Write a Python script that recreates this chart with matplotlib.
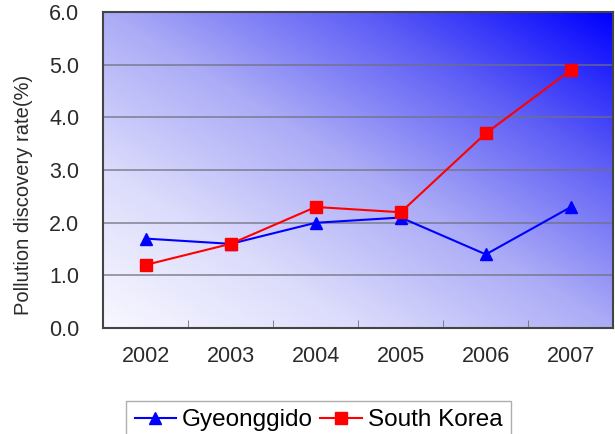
import numpy as np
import matplotlib.pyplot as plt
from matplotlib.colors import LinearSegmentedColormap

years = ['2002', '2003', '2004', '2005', '2006', '2007']
gyeonggido = [1.7, 1.6, 2.0, 2.1, 1.4, 2.3]
south_korea = [1.2, 1.6, 2.3, 2.2, 3.7, 4.9]

plt.rcParams['font.family'] = ['Liberation Sans', 'DejaVu Sans']

fig = plt.figure(figsize=(6.15, 4.34), dpi=100)
ax = fig.add_axes([0.1675, 0.244, 0.830, 0.728])

x = np.arange(len(years))

# diagonal gradient background, white at lower left, blue at upper right
gx, gy = np.meshgrid(np.linspace(0, 1, 300), np.linspace(0, 1, 300))
t = (gx + gy) / 2
cmap = LinearSegmentedColormap.from_list(
    'bg', [(0, '#f8f8ff'), (0.25, '#dcdcfc'), (0.5, '#acacf7'), (0.75, '#5e5ef6'), (1, '#0000ff')])
ax.imshow(t, cmap=cmap, origin='lower', extent=[-0.5, 5.5, 0, 6], aspect='auto',
          interpolation='bilinear', zorder=0)

for v in [1, 2, 3, 4, 5]:
    ax.axhline(v, color='#70707e', lw=1.1, alpha=0.85, zorder=1)

ax.plot(x, gyeonggido, color='#0000ff', lw=1.5, marker='^', ms=8, label='Gyeonggido', zorder=3)
ax.plot(x, south_korea, color='#ff0000', lw=1.5, marker='s', ms=8, label='South Korea', zorder=3)

ax.set_xlim(-0.5, 5.5)
ax.set_ylim(0, 6)
ax.set_xticks(x)
ax.set_xticklabels(years)
ax.set_xticks(np.arange(-0.5, 6, 1), minor=True)
ax.tick_params(axis='x', which='major', length=0, pad=13, labelsize=15.5, colors='#2a2a2a')
ax.tick_params(axis='x', which='minor', direction='in', length=6, color='#707070')
ax.set_yticks(np.arange(0, 7, 1))
ax.set_yticklabels([f'{v:.1f}' for v in range(7)])
ax.tick_params(axis='y', length=0, pad=17, labelsize=15.5, colors='#2a2a2a')
ax.set_ylabel('Pollution discovery rate(%)', fontsize=14.5, color='#2a2a2a')
ax.yaxis.set_label_coords(-0.138, 0.42)

for s in ax.spines.values():
    s.set_color('#444444')
    s.set_linewidth(1.5)

fig.legend(loc='upper center', bbox_to_anchor=(0.518, 0.077), borderaxespad=0, ncol=2,
           fontsize=17.5, frameon=True, fancybox=False, edgecolor='#999999',
           handlelength=1.7, handletextpad=0.25, columnspacing=0.3, borderpad=0.35)

fig.savefig('out.png', dpi=100)
